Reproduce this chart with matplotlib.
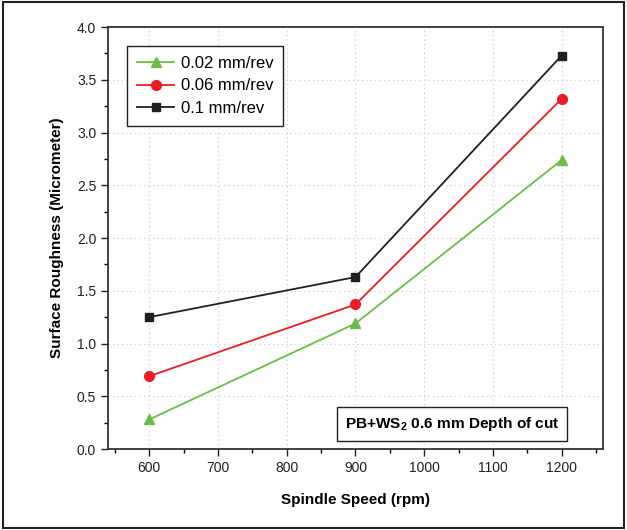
import numpy as np
import matplotlib
matplotlib.use("Agg")
from matplotlib import pyplot as plt
from matplotlib.ticker import MultipleLocator
from matplotlib.patches import Rectangle

speed = [600, 900, 1200]
feed_002 = [0.28, 1.19, 2.74]
feed_006 = [0.69, 1.37, 3.32]
feed_01 = [1.25, 1.63, 3.73]

plt.rcParams['font.family'] = ['Liberation Sans', 'DejaVu Sans']
plt.rcParams['mathtext.fontset'] = 'custom'
plt.rcParams['mathtext.bf'] = 'Liberation Sans:bold'
plt.rcParams['mathtext.rm'] = 'Liberation Sans'

fig = plt.figure(figsize=(6.27, 5.30), dpi=100)
ax = fig.add_axes([0.1722, 0.1528, 0.7895, 0.7962])

ax.plot(speed, feed_002, color='#6cbd45', marker='^', markersize=7, lw=1.3, label='0.02 mm/rev')
ax.plot(speed, feed_006, color='#ed1c24', marker='o', markersize=7, lw=1.3, label='0.06 mm/rev')
ax.plot(speed, feed_01, color='#231f20', marker='s', markersize=6, lw=1.3, label='0.1 mm/rev')

ax.set_xlim(540, 1260)
ax.set_ylim(0, 4.0)
ax.xaxis.set_major_locator(MultipleLocator(100))
ax.xaxis.set_minor_locator(MultipleLocator(50))
ax.yaxis.set_minor_locator(MultipleLocator(0.25))
ax.set_yticks(np.arange(0, 4.01, 0.5))
ax.set_yticklabels([f"{v:.1f}" for v in np.arange(0, 4.01, 0.5)])
ax.tick_params(which='major', direction='out', length=5, width=1, labelsize=10, colors='#231f20')
ax.tick_params(which='minor', direction='out', length=3, width=1)
ax.grid(True, which='major', linestyle=(0, (1, 3)), color='#c8c8c8', lw=0.8)
for s in ax.spines.values():
    s.set_linewidth(1.3)
    s.set_color('#333333')

ax.set_xlabel('Spindle Speed (rpm)', fontsize=11, fontweight='bold', labelpad=13)
ax.set_ylabel('Surface Roughness (Micrometer)', fontsize=11, fontweight='bold', labelpad=9)

leg = ax.legend(loc='upper left', bbox_to_anchor=(0.022, 0.975), fontsize=12, fancybox=False,
                edgecolor='#231f20', framealpha=1, handlelength=2.2, borderpad=0.6,
                labelspacing=0.45, handletextpad=0.4)
leg.get_frame().set_linewidth(1)

ax.text(0.912, 0.038, r'PB+WS$_\mathbf{2}$ 0.6 mm Depth of cut', transform=ax.transAxes,
        ha='right', va='bottom', fontsize=11.1, fontweight='bold',
        bbox=dict(boxstyle='square,pad=0.5', fc='white', ec='#231f20', lw=1))

fig.patches.append(Rectangle((0.004, 0.004), 0.992, 0.992, transform=fig.transFigure,
                             fill=False, ec='#222222', lw=1.5))

plt.savefig('out.png', dpi=100)
